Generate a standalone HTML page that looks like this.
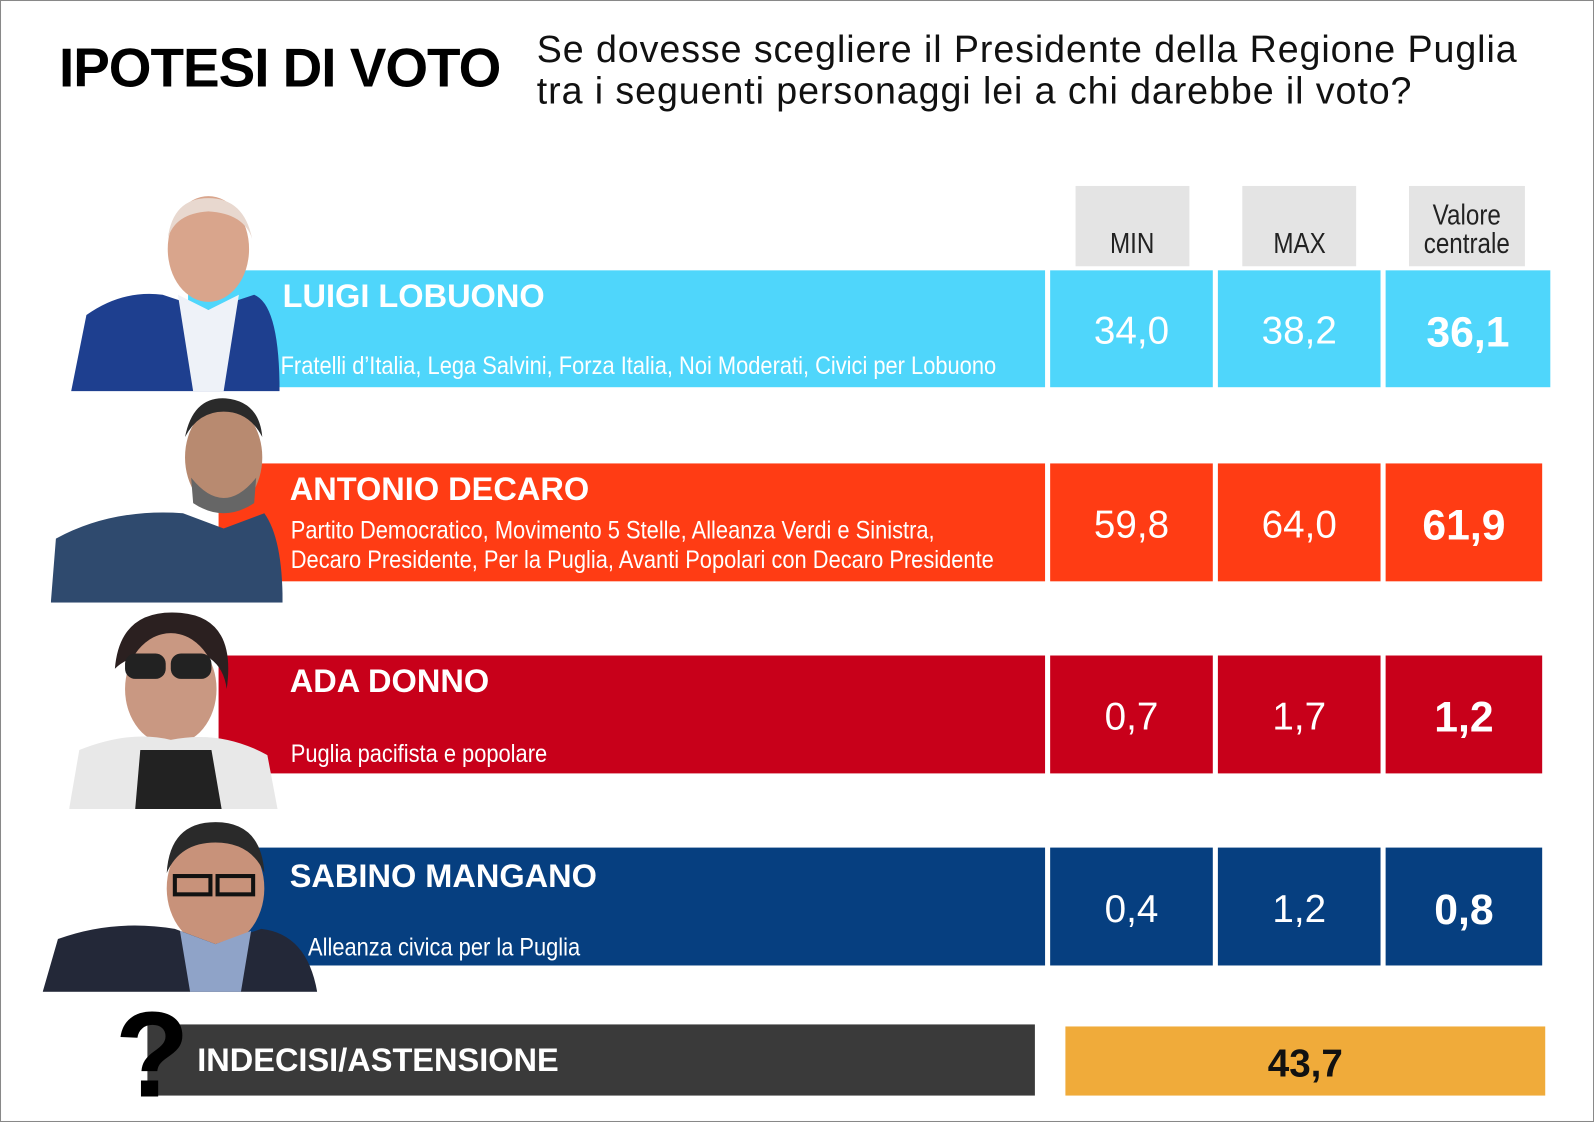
<!DOCTYPE html>
<html><head><meta charset="utf-8">
<style>
html,body{margin:0;padding:0;background:#fff;}
body{width:1594px;height:1122px;overflow:hidden;position:relative;}
#c{position:absolute;left:0;top:0;width:1568px;height:1104px;transform:scale(1.0166,1.0163);transform-origin:0 0;font-family:"Liberation Sans",sans-serif;}
.b{position:absolute;}
.hd{position:absolute;background:#e4e4e4;color:#222;font-size:28px;text-align:center;display:flex;align-items:flex-end;justify-content:center;line-height:28px;}
.hd span{display:inline-block;transform:scaleX(0.85);padding-bottom:8px;}
.cell{position:absolute;color:#fff;font-size:38px;display:flex;align-items:center;justify-content:center;padding-top:6px;box-sizing:border-box;}
.cell.v{font-weight:bold;font-size:42px;}
.nm{position:absolute;color:#fff;font-weight:bold;font-size:32px;}
.pt{position:absolute;color:#fff;font-size:25px;line-height:29px;white-space:nowrap;transform:scaleX(0.86);transform-origin:0 0;}
</style></head><body><div id="c">
<div class="b" style="left:0;top:0;width:1566px;height:1102px;border:1px solid #888;"></div>
<div class="b" style="left:58px;top:36px;font-size:54px;font-weight:bold;letter-spacing:-1px;">IPOTESI DI VOTO</div>
<div class="b" style="left:528px;top:28px;font-size:37px;line-height:41px;color:#111;letter-spacing:0.9px;">Se dovesse scegliere il Presidente della Regione Puglia<br>tra i seguenti personaggi lei a chi darebbe il voto?</div>

<div class="hd" style="left:1058px;top:183px;width:112px;height:79px;"><span>MIN</span></div>
<div class="hd" style="left:1222px;top:183px;width:112px;height:79px;"><span>MAX</span></div>
<div class="hd" style="left:1386px;top:183px;width:114px;height:79px;"><span>Valore<br>centrale</span></div>

<!-- row1 -->
<div class="b" style="left:185px;top:266px;width:843px;height:115px;background:#4fd6fb"></div>
<div class="cell" style="left:1033px;top:266px;width:160px;height:115px;background:#4fd6fb">34,0</div>
<div class="cell" style="left:1198px;top:266px;width:160px;height:115px;background:#4fd6fb">38,2</div>
<div class="cell v" style="left:1363px;top:266px;width:162px;height:115px;background:#4fd6fb">36,1</div>
<div class="nm" style="left:278px;top:273px;">LUIGI LOBUONO</div>
<div class="pt" style="left:276px;top:346px;">Fratelli d’Italia, Lega Salvini, Forza Italia, Noi Moderati, Civici per Lobuono</div>
<svg class="b" style="left:60px;top:190px" width="215" height="195"><ellipse cx="145" cy="55" rx="40" ry="52" fill="#d9a58c"/><path d="M105 45 Q110 5 145 5 Q180 5 188 45 Q180 20 145 18 Q112 20 105 45Z" fill="#e8d8cf"/><path d="M10 195 L25 120 Q60 95 100 100 L145 115 L190 100 Q215 110 215 195Z" fill="#1e3f8f"/><path d="M115 100 L145 115 L175 100 L160 195 L130 195Z" fill="#eef2f8"/></svg>

<!-- row2 -->
<div class="b" style="left:215px;top:456px;width:813px;height:116px;background:#ff3c14"></div>
<div class="cell" style="left:1033px;top:456px;width:160px;height:116px;background:#ff3c14">59,8</div>
<div class="cell" style="left:1198px;top:456px;width:160px;height:116px;background:#ff3c14">64,0</div>
<div class="cell v" style="left:1363px;top:456px;width:154px;height:116px;background:#ff3c14">61,9</div>
<div class="nm" style="left:285px;top:463px;">ANTONIO DECARO</div>
<div class="pt" style="left:286px;top:508px;">Partito Democratico, Movimento 5 Stelle, Alleanza Verdi e Sinistra,<br>Decaro Presidente, Per la Puglia, Avanti Popolari con Decaro Presidente</div>
<svg class="b" style="left:50px;top:390px" width="228" height="203"><ellipse cx="170" cy="60" rx="38" ry="52" fill="#b88a70"/><path d="M132 40 Q140 0 172 2 Q205 5 208 40 Q195 15 170 15 Q145 15 132 40Z" fill="#2a2a2a"/><path d="M138 80 Q170 120 202 80 L200 105 Q170 125 140 105Z" fill="#666"/><path d="M0 203 L5 140 Q60 110 130 115 L170 130 L210 115 Q228 140 228 203Z" fill="#2f4a6e"/></svg>

<!-- row3 -->
<div class="b" style="left:215px;top:645px;width:813px;height:116px;background:#c8001a"></div>
<div class="cell" style="left:1033px;top:645px;width:160px;height:116px;background:#c8001a">0,7</div>
<div class="cell" style="left:1198px;top:645px;width:160px;height:116px;background:#c8001a">1,7</div>
<div class="cell v" style="left:1363px;top:645px;width:154px;height:116px;background:#c8001a">1,2</div>
<div class="nm" style="left:285px;top:652px;">ADA DONNO</div>
<div class="pt" style="left:286px;top:728px;">Puglia pacifista e popolare</div>
<svg class="b" style="left:68px;top:598px" width="205" height="198"><path d="M45 60 Q50 0 110 5 Q165 10 155 80 Q150 40 100 40 Q60 45 45 60Z" fill="#2b2020"/><ellipse cx="100" cy="80" rx="45" ry="55" fill="#c99882"/><rect x="55" y="45" width="40" height="25" rx="10" fill="#222"/><rect x="100" y="45" width="40" height="25" rx="10" fill="#222"/><path d="M0 198 L10 140 Q60 120 100 130 Q150 120 195 145 L205 198Z" fill="#e8e8e8"/><path d="M70 140 L140 140 L150 198 L65 198Z" fill="#222"/></svg>

<!-- row4 -->
<div class="b" style="left:215px;top:834px;width:813px;height:116px;background:#063f80"></div>
<div class="cell" style="left:1033px;top:834px;width:160px;height:116px;background:#063f80">0,4</div>
<div class="cell" style="left:1198px;top:834px;width:160px;height:116px;background:#063f80">1,2</div>
<div class="cell v" style="left:1363px;top:834px;width:154px;height:116px;background:#063f80">0,8</div>
<div class="nm" style="left:285px;top:844px;">SABINO MANGANO</div>
<div class="pt" style="left:303px;top:918px;">Alleanza civica per la Puglia</div>
<svg class="b" style="left:42px;top:804px" width="270" height="172"><ellipse cx="170" cy="70" rx="48" ry="58" fill="#c8927a"/><path d="M122 55 Q125 5 170 5 Q215 5 218 55 Q205 25 170 25 Q135 25 122 55Z" fill="#2a2a2a"/><rect x="130" y="58" width="35" height="18" fill="none" stroke="#111" stroke-width="4"/><rect x="172" y="58" width="35" height="18" fill="none" stroke="#111" stroke-width="4"/><path d="M0 172 L15 120 Q70 100 130 110 L170 125 L215 110 Q260 115 270 172Z" fill="#232838"/><path d="M135 112 L170 125 L205 112 L195 172 L145 172Z" fill="#8fa3c8"/></svg>

<!-- bottom -->
<div class="b" style="left:145px;top:1008px;width:873px;height:70px;background:#3a3a3a"></div>
<div class="b" style="left:113px;top:982px;font-size:120px;font-weight:bold;line-height:112px;">?</div>
<div class="nm" style="left:194px;top:1025px;font-size:32px;">INDECISI/ASTENSIONE</div>
<div class="b" style="left:1048px;top:1010px;width:472px;height:68px;background:#f0ab3a;display:flex;align-items:center;justify-content:center;font-weight:bold;font-size:38px;color:#111;padding-top:6px;box-sizing:border-box;">43,7</div>
</div></body></html>
